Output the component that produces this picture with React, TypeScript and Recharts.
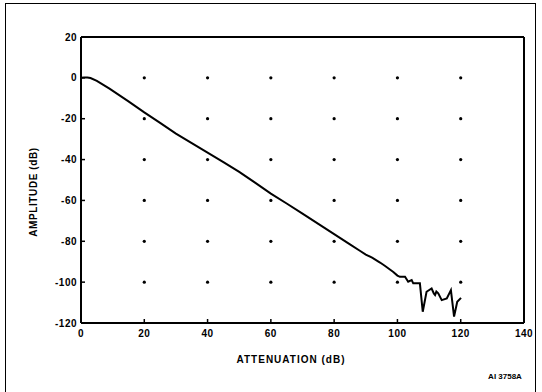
import {
  ComposedChart,
  Line,
  Scatter,
  XAxis,
  YAxis,
} from 'recharts';

const attenuation = [
  0, 1, 2, 3, 5, 9, 15, 20, 25, 30, 35, 40, 45, 50, 55, 60, 65, 70, 75, 80,
  85, 88, 90, 92, 94.5, 96, 98.7, 100, 100.8, 102.4, 103.4, 104.5, 105, 107.1,
  108, 109.2, 110.8, 111.5, 111.9, 112.3, 112.9, 114, 115.6, 116.9, 117.9,
  118.9, 120.1,
];
const amplitude = [
  0, 0.2, 0.2, -0.1, -1.5, -5.3, -11.5, -16.9, -22, -27.3, -32, -36.6, -41.3,
  -46, -51.3, -56.7, -61.5, -66.5, -71.5, -76.5, -81.5, -84.5, -86.5, -88,
  -90.4, -92, -95, -96.8, -97.4, -97.4, -99.8, -99, -100.6, -100.6, -114.5,
  -104.7, -103.1, -105.5, -106.3, -104.6, -105.5, -108.8, -108, -103.9,
  -116.9, -109.6, -107.7,
];

const xTicks = [0, 20, 40, 60, 80, 100, 120, 140];
const yTicks = [20, 0, -20, -40, -60, -80, -100, -120];
const gridX = [20, 40, 60, 80, 100, 120];
const gridY = [0, -20, -40, -60, -80, -100];

const lineData = attenuation.map((x, i) => ({ x, y: amplitude[i] }));
const dotData = gridX.flatMap((x) => gridY.map((y) => ({ x, y })));

const font = '"Liberation Sans", Arial, sans-serif';
const tickStyle = { fontSize: 10, fontWeight: 700, fill: '#000', fontFamily: font, letterSpacing: 0.5 };

export default function App() {
  return (
    <div style={{ position: 'absolute', left: 0, top: 0, width: 542, height: 392, background: '#fff', overflow: 'hidden' }}>
      <div
        style={{
          position: 'absolute',
          left: 5,
          top: 3,
          width: 531,
          height: 389,
          borderLeft: '1.5px solid #000',
          borderTop: '1.5px solid #000',
          borderRight: '1.5px solid #000',
          boxSizing: 'border-box',
        }}
      />
      <div style={{ position: 'absolute', left: 0, top: 0 }}>
        <ComposedChart width={542} height={392} margin={{ top: 36, right: 17, bottom: 0, left: 40 }}>
          <XAxis
            dataKey="x"
            type="number"
            domain={[0, 140]}
            ticks={xTicks}
            height={69}
            tick={tickStyle}
            tickSize={-4}
            tickMargin={11}
            axisLine={{ stroke: '#000', strokeWidth: 2 }}
            tickLine={{ stroke: '#000', strokeWidth: 1.5 }}
            allowDataOverflow
          />
          <XAxis
            xAxisId="top"
            orientation="top"
            type="number"
            domain={[0, 140]}
            ticks={gridX}
            height={1}
            tick={false}
            tickSize={-4}
            axisLine={{ stroke: '#000', strokeWidth: 2 }}
            tickLine={{ stroke: '#000', strokeWidth: 1.5 }}
          />
          <YAxis
            dataKey="y"
            type="number"
            domain={[-120, 20]}
            ticks={yTicks}
            width={41}
            tick={tickStyle}
            tickSize={-4}
            tickMargin={8}
            axisLine={{ stroke: '#000', strokeWidth: 2 }}
            tickLine={{ stroke: '#000', strokeWidth: 1.5 }}
            allowDataOverflow
          />
          <YAxis
            yAxisId="right"
            orientation="right"
            type="number"
            domain={[-120, 20]}
            ticks={gridY}
            width={1}
            tick={false}
            tickSize={-4}
            axisLine={{ stroke: '#000', strokeWidth: 2 }}
            tickLine={{ stroke: '#000', strokeWidth: 1.5 }}
          />
          <Scatter
            data={dotData}
            isAnimationActive={false}
            shape={(p: any) => <circle cx={p.cx} cy={p.cy} r={1.6} fill="#000" />}
          />
          <Line
            data={lineData}
            dataKey="y"
            type="linear"
            stroke="#000"
            strokeWidth={2}
            dot={false}
            activeDot={false}
            isAnimationActive={false}
          />
        </ComposedChart>
      </div>
      <div
        style={{
          position: 'absolute',
          left: 33,
          top: 192,
          transform: 'translate(-50%, -50%) rotate(-90deg)',
          whiteSpace: 'nowrap',
          fontFamily: font,
          fontWeight: 700,
          fontSize: 10,
          letterSpacing: 0.6,
        }}
      >
        AMPLITUDE (dB)
      </div>
      <div
        style={{
          position: 'absolute',
          left: 291,
          top: 359,
          transform: 'translate(-50%, -50%)',
          whiteSpace: 'nowrap',
          fontFamily: font,
          fontWeight: 700,
          fontSize: 10,
          letterSpacing: 1,
        }}
      >
        ATTENUATION (dB)
      </div>
      <div
        style={{
          position: 'absolute',
          left: 505,
          top: 376,
          transform: 'translate(-50%, -50%)',
          whiteSpace: 'nowrap',
          fontFamily: font,
          fontWeight: 700,
          fontSize: 8,
        }}
      >
        AI 3758A
      </div>
    </div>
  );
}
